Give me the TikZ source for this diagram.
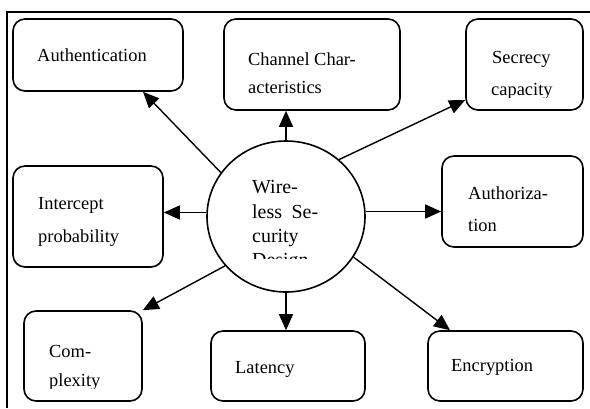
\documentclass[tikz,border=0pt]{standalone}
\usepackage{fontspec}
\setmainfont{Liberation Serif}
\usetikzlibrary{arrows.meta,calc,shapes.geometric}
\begin{document}
\begin{tikzpicture}[x=1bp,y=-1bp,
  box/.style={draw,line width=1.6bp,rounded corners=12bp,minimum width=#1,inner sep=0pt},
  lbl/.style={anchor=base west,inner sep=0pt,font=\fontsize{18.5}{30}\selectfont},
  clbl/.style={anchor=base west,inner sep=0pt,font=\fontsize{20}{25}\selectfont},
  arr/.style={line width=1.4bp,-{Triangle[length=16bp,width=14bp]}},
  frame/.style={line width=1.8bp}]
\useasboundingbox (0,0) rectangle (590,408);
% frame
\draw[frame] (7,408) -- (7,12) -- (590,12);
% boxes
\node[box=170bp,minimum height=72bp] (auth) at (98,55) {};
\node[box=176bp,minimum height=91bp] (chan) at (312,64.5) {};
\node[box=117bp,minimum height=91bp] (secr) at (524.5,64.5) {};
\node[box=150bp,minimum height=101bp] (intc) at (88,216.5) {};
\node[box=141bp,minimum height=91bp] (autz) at (512.5,201.5) {};
\node[box=118bp,minimum height=90bp] (comp) at (83,356) {};
\node[box=154bp,minimum height=70bp] (late) at (288,366) {};
\node[box=155bp,minimum height=70bp] (encr) at (505.5,366) {};
% centre
\node[draw,line width=1.6bp,ellipse,minimum width=158bp,minimum height=151bp,inner sep=0pt] (c) at (286,216.5) {};
% labels
\node[lbl] (tauth) at (37,61) {Authentication};
\node[lbl] (tchan1) at (248,65) {Channel Char-};
\node[lbl] (tchan2) at (248,93) {acteristics};
\node[lbl] (tsecr1) at (492,63) {Secrecy};
\begin{scope}
\clip (480,70) rectangle (570,97);
\node[lbl] (tsecr2) at (491,95) {capacity};
\end{scope}
\node[lbl] (tintc1) at (38,209) {Intercept};
\node[lbl] (tintc2) at (38,242) {probability};
\node[lbl] (tautz1) at (468,199) {Authoriza-};
\node[lbl] (tautz2) at (468,231) {tion};
\node[lbl] (tcomp1) at (49,357) {Com-};
\begin{scope}
\clip (40,360) rectangle (135,388);
\node[lbl] (tcomp2) at (49,386) {plexity};
\end{scope}
\node[lbl] (tlate) at (235,373) {Latency};
\node[lbl] (tencr) at (451,371) {Encryption};
\node[clbl] (tc1) at (252,193) {Wire-};
\node[clbl] (tc2) at (252,218) {\makebox[66bp][s]{less\hfill Se-}};
\node[clbl] (tc3) at (252,242) {curity};
\begin{scope}
\clip (245,245) rectangle (330,258);
\node[clbl] (tc4) at (252,266) {Design};
\end{scope}
% connectors
\draw[arr] (c.146) -- ([xshift=45bp]auth.south);
\draw[arr] (c.north) -- (c.north |- chan.south);
\draw[arr] (c.47) -- ([yshift=-35.5bp]secr.west);
\draw[arr] ([yshift=4bp]c.west) -- ([yshift=4bp]c.west -| intc.east);
\draw[arr] ([yshift=5bp]c.east) -- ([yshift=5bp]c.east -| autz.west);
\draw[arr] (c.219) -- (comp.north east);
\draw[arr] (c.south) -- (c.south |- late.north);
\draw[arr] (c.-31) -- ([xshift=-55.5bp]encr.north);
\end{tikzpicture}
\end{document}
